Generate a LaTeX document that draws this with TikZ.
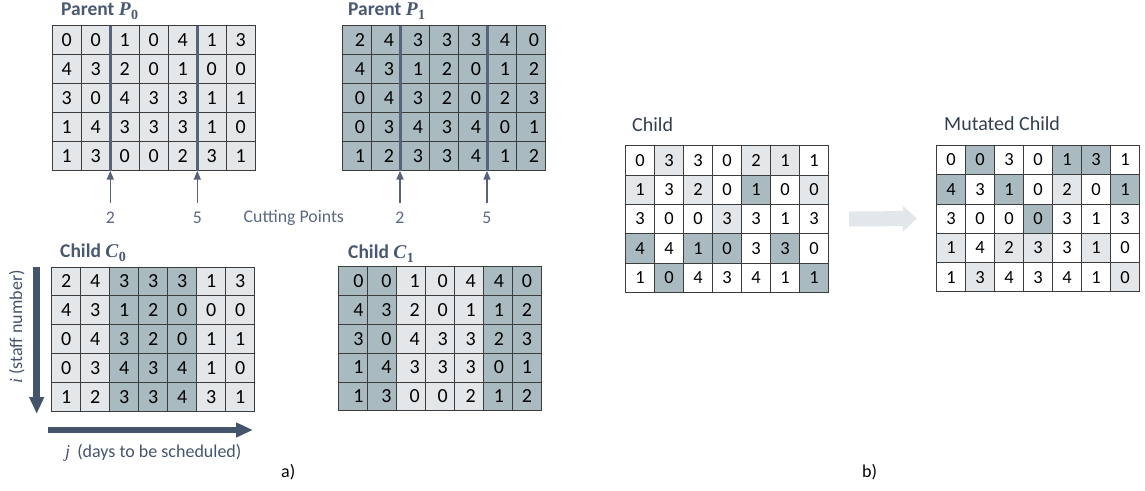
\documentclass[tikz,border=0pt]{standalone}
\usepackage{fontspec}
\setmainfont{Carlito}
\newfontfamily\mathlike{Liberation Serif}
\usetikzlibrary{arrows.meta}
\definecolor{cW}{HTML}{FFFFFF}
\definecolor{cL}{HTML}{E3E7EA}
\definecolor{cD}{HTML}{A9BBC0}
\definecolor{gridc}{HTML}{3C3C3C}
\definecolor{titlec}{HTML}{4A5870}
\definecolor{cutc}{HTML}{56637A}
\definecolor{lblc}{HTML}{5A6982}
\definecolor{darkt}{HTML}{333F50}
\definecolor{axisc}{HTML}{44546A}
\newcommand\mkgrid[7]{%
  \foreach \rowlist [count=\ri from 0] in {#6} {%
    \foreach \v/\c [count=\ci from 0] in \rowlist {%
      \pgfmathsetmacro\dx{#7}%
      \node[cell, fill=c\c, minimum height=#4pt, font=\fontsize{#5}{#5}\selectfont]
        (#1-\ri-\ci) at ({#2+\ci*29+14.5},{#3+\ri*#4+#4/2}) {\kern\dx pt\v};
    }%
  }%
}
\newcommand\symb[2]{{\mathlike\bfseries\itshape #1}\kern0.5pt\raisebox{-0.22em}{\fontsize{14}{14}\selectfont\mathlike\bfseries #2}}
\begin{document}
\begin{tikzpicture}[x=1pt,y=-1pt,
  cell/.style={draw=gridc, line width=0.8pt, minimum width=29pt, inner sep=0pt, outer sep=0pt, text=black},
  gtitle/.style={anchor=base west, inner sep=0pt, text=titlec, font=\fontsize{19.5}{21}\selectfont\bfseries},
  rtitle/.style={anchor=base west, inner sep=0pt, text=darkt, font=\fontsize{20}{22}\selectfont},
  cutline/.style={draw=cutc, line width=3pt},
  cutarrow/.style={draw=cutc, line width=1.5pt, -{Triangle[width=7pt,length=9pt]}},
  cutlbl/.style={anchor=base, inner sep=0pt, text=lblc, font=\fontsize{17.8}{19}\selectfont},
  axisarrow/.style={draw=axisc, line width=6.5pt, -{Triangle[width=14pt,length=17pt]}},
  axislbl/.style={inner sep=0pt, text=axisc, font=\fontsize{18}{20}\selectfont},
  blockarrow/.style={draw=cL, line width=15pt, -{Triangle[width=25pt,length=14pt]}},
  sublbl/.style={anchor=base west, inner sep=0pt, text=black, font=\fontsize{18}{20}\selectfont}]
\useasboundingbox (0,0) rectangle (1145,490);

% ---------- a) ----------
\mkgrid{p0}{52.3}{25.7}{29}{20}{%
{0/L,0/L,1/L,0/L,4/L,1/L,3/L},
{4/L,3/L,2/L,0/L,1/L,0/L,0/L},
{3/L,0/L,4/L,3/L,3/L,1/L,1/L},
{1/L,4/L,3/L,3/L,3/L,1/L,0/L},
{1/L,3/L,0/L,0/L,2/L,3/L,1/L}}{0}

\mkgrid{p1}{342}{25.7}{29}{20}{%
{2/D,4/D,3/D,3/D,3/D,4/D,0/D},
{4/D,3/D,1/D,2/D,0/D,1/D,2/D},
{0/D,4/D,3/D,2/D,0/D,2/D,3/D},
{0/D,3/D,4/D,3/D,4/D,0/D,1/D},
{1/D,2/D,3/D,3/D,4/D,1/D,2/D}}{7}

\mkgrid{c0}{51.7}{267}{28.8}{20}{%
{2/L,4/L,3/D,3/D,3/D,1/L,3/L},
{4/L,3/L,1/D,2/D,0/D,0/L,0/L},
{0/L,4/L,3/D,2/D,0/D,1/L,1/L},
{0/L,3/L,4/D,3/D,4/D,1/L,0/L},
{1/L,2/L,3/D,3/D,4/D,3/L,1/L}}{0}

\mkgrid{c1}{338.5}{266.7}{28.8}{20}{%
{0/D,0/D,1/L,0/L,4/L,4/D,0/D},
{4/D,3/D,2/L,0/L,1/L,1/D,2/D},
{3/D,0/D,4/L,3/L,3/L,2/D,3/D},
{1/D,4/D,3/L,3/L,3/L,0/D,1/D},
{1/D,3/D,0/L,0/L,2/L,1/D,2/D}}{1.8*(6-\ci)}

% titles
\node[gtitle] (tp0) at (61,15) {Parent \symb{P}{0}};
\node[gtitle] (tp1) at (348,15) {Parent \symb{P}{1}};
\node[gtitle] (tc0) at (60,257) {Child \symb{C}{0}};
\node[gtitle] (tc1) at (348,258) {Child \symb{C}{1}};

% cutting lines
\draw[cutline] (p0-0-2.north west) -- (p0-4-2.south west);
\draw[cutline] (p0-0-5.north west) -- (p0-4-5.south west);
\draw[cutline] (p1-0-2.north west) -- (p1-4-2.south west);
\draw[cutline] (p1-0-5.north west) -- (p1-4-5.south west);

% cutting point arrows and labels
\coordinate (ystart) at (0,203);
\coordinate (ylbl) at (0,223);
\node[cutlbl] (l0a) at (p0-4-2.south west |- ylbl) {2};
\node[cutlbl] (l0b) at (p0-4-5.south west |- ylbl) {5};
\node[cutlbl] (l1a) at (p1-4-2.south west |- ylbl) {2};
\node[cutlbl] (l1b) at (p1-4-5.south west |- ylbl) {5};
\draw[cutarrow] (p0-4-2.south west |- ystart) -- (p0-4-2.south west);
\draw[cutarrow] (p0-4-5.south west |- ystart) -- (p0-4-5.south west);
\draw[cutarrow] (p1-4-2.south west |- ystart) -- (p1-4-2.south west);
\draw[cutarrow] (p1-4-5.south west |- ystart) -- (p1-4-5.south west);
\node[cutlbl, anchor=base west] (cp) at (243.5,222) {Cutting Points};

% axes
\coordinate (iS) at (36.7,266.7);
\coordinate (iE) at (36.7,414);
\coordinate (jS) at (48,430);
\coordinate (jE) at (253,430);
\draw[axisarrow] (iS) -- (iE);
\draw[axisarrow] (jS) -- (jE);
\node[axislbl, rotate=90, anchor=base west] (il) at (22,384) {\textit{\mathlike i} (staff number)};
\node[axislbl, anchor=base west] (jl) at (65,457) {\textit{\mathlike j}\, (days to be scheduled)};

\node[sublbl] (la) at (281,477) {a)};

% ---------- b) ----------
\mkgrid{ch}{625.5}{145.7}{29.3}{18.5}{%
{0/W,3/L,3/W,0/W,2/L,1/L,1/W},
{1/L,3/W,2/L,0/W,1/D,0/W,0/L},
{3/W,0/W,0/W,3/L,3/W,1/W,3/W},
{4/D,4/W,1/D,0/D,3/W,3/D,0/W},
{1/W,0/D,4/W,3/W,4/W,1/W,1/D}}{0}

\mkgrid{mu}{936.5}{145.3}{29.3}{18.5}{%
{0/W,0/D,3/W,0/W,1/D,3/D,1/W},
{4/D,3/W,1/D,0/W,2/L,0/W,1/D},
{3/W,0/W,0/W,0/D,3/W,1/W,3/W},
{1/L,4/W,2/L,3/L,3/W,1/L,0/W},
{1/W,3/L,4/W,3/W,4/W,1/W,0/L}}{0}

\node[rtitle] (tch) at (632,131) {Child};
\node[rtitle] (tmu) at (944,130) {Mutated Child};

\draw[blockarrow] ([xshift=20.6pt]ch-2-6.east) -- ([xshift=-19.6pt]mu-2-0.west);

\node[sublbl] (lb) at (862,477) {b)};
\end{tikzpicture}
\end{document}
